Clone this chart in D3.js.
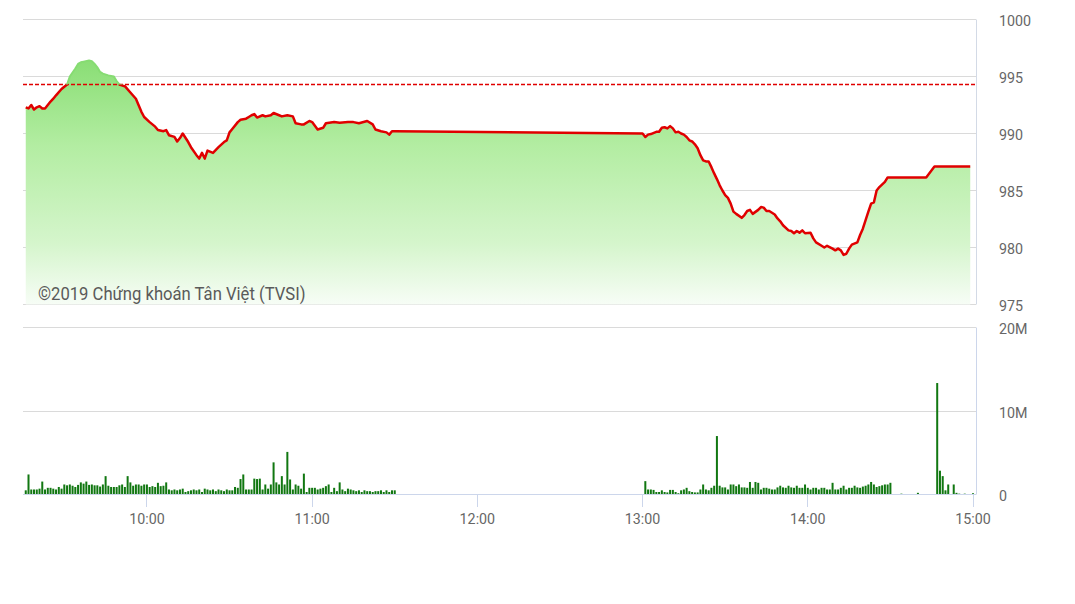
<!DOCTYPE html>
<html><head><meta charset="utf-8">
<script src="https://cdn.jsdelivr.net/npm/d3@7"></script>
<style>html,body{margin:0;padding:0;background:#fff;}svg{display:block;font-family:Roboto,"Noto Sans",sans-serif;}</style>
</head><body><svg id="c" width="1075" height="604"></svg>
<script>
// ---- DATA ----
const priceTimes = ["9:16","9:17","9:18","9:19","9:20","9:21","9:22","9:23","9:25","9:26","9:27","9:29","9:31","9:32","9:34","9:35","9:36","9:37","9:39","9:40","9:41","9:42","9:43","9:44","9:46","9:48","9:49","9:50","9:52","9:54","9:56","9:58","9:59","10:01","10:03","10:04","10:06","10:07","10:08","10:10","10:11","10:12","10:13","10:15","10:16","10:18","10:19","10:20","10:21","10:22","10:24","10:26","10:28","10:29","10:30","10:31","10:33","10:34","10:36","10:37","10:38","10:39","10:40","10:42","10:43","10:45","10:46","10:48","10:49","10:51","10:53","10:54","10:56","10:57","10:59","11:00","11:02","11:04","11:05","11:08","11:10","11:13","11:15","11:17","11:20","11:22","11:23","11:25","11:27","11:28","11:29","11:30",
"13:00","13:01","13:02","13:03","13:05","13:06","13:07","13:08","13:09","13:10","13:11","13:12","13:13","13:14","13:15","13:16","13:17","13:18","13:19","13:20","13:21","13:22","13:23","13:24","13:25","13:26","13:27","13:28","13:29","13:30","13:31","13:32","13:33","13:34","13:36","13:37","13:38","13:39","13:40","13:42","13:43","13:44","13:45","13:46","13:48","13:49","13:50","13:51","13:53","13:54","13:55","13:56","13:57","13:58","13:59","14:01","14:02","14:03","14:05","14:06","14:07","14:09","14:10","14:11","14:12","14:13","14:14","14:15","14:16","14:18","14:19","14:20","14:21","14:22","14:23","14:24","14:25","14:26","14:28","14:29","14:43","14:46","14:59"];
const priceValues = [992.3,992.2,992.5,992.1,992.3,992.4,992.2,992.2,992.8,993.05,993.35,993.9,994.3,995.0,995.7,996.1,996.25,996.3,996.4,996.35,996.1,995.8,995.4,995.25,995.1,995.0,994.6,994.3,994.15,993.6,993.05,991.9,991.45,991.0,990.6,990.3,990.2,990.3,989.85,989.7,989.3,989.6,990.0,989.25,988.8,988.1,987.8,988.3,987.8,988.5,988.3,988.8,989.25,989.4,990.1,990.4,991.0,991.2,991.3,991.45,991.6,991.7,991.4,991.6,991.5,991.6,991.8,991.6,991.5,991.6,991.5,990.9,990.8,990.8,991.1,991.0,990.35,990.5,990.9,991.0,990.95,991.0,991.0,990.9,991.1,990.8,990.35,990.2,990.1,989.9,990.2,990.2,
990.0,989.7,989.9,989.95,990.15,990.15,990.5,990.55,990.45,990.65,990.45,990.1,990.15,990.0,989.9,989.7,989.4,989.3,989.05,988.7,988.1,987.65,987.55,987.55,987.05,986.5,986.0,985.45,985.0,984.6,984.35,983.85,983.15,982.95,982.6,982.85,983.2,983.3,982.95,983.3,983.55,983.5,983.2,983.2,982.9,982.55,982.3,981.95,981.5,981.45,981.25,981.45,981.3,981.5,981.25,981.3,980.8,980.45,980.15,980.0,980.15,979.9,979.75,979.9,979.75,979.35,979.45,979.9,980.25,980.45,981.1,981.65,982.4,983.15,983.85,983.95,985.0,985.3,985.75,986.15,986.15,987.1,987.1];
const refValue = 994.3;

const volMorningStart = "9:16";
const volMorning = [0.5,2.4,0.6,0.6,0.6,0.7,1.55,0.6,0.8,0.8,0.7,0.6,0.9,0.7,
1.2,1.1,1.2,1.05,0.9,1.15,1.45,1.3,1.55,1.15,1.2,1.1,1.1,0.95,1.2,2.2,1.05,0.9,0.9,0.9,1.1,1.2,0.9,2.2,1.45,1.05,1.2,1.2,1.05,1.2,1.2,0.9,1.0,
0.9,1.4,1.0,1.05,1.45,0.6,0.5,0.6,0.5,0.6,0.7,0.3,0.4,0.5,0.6,0.5,0.6,0.3,0.7,0.6,0.5,0.6,0.4,0.6,0.5,0.4,
0.6,0.5,0.5,0.9,0.8,1.85,2.4,0.6,0.6,0.6,1.9,1.85,1.9,0.6,1.2,0.7,1.2,3.85,1.45,1.2,2.2,1.2,5.1,1.8,0.6,1.2,1.05,0.7,2.5,0.3,0.8,0.8,0.8,0.6,0.7,0.8,1.0,1.2,0.3,0.8,0.4,1.45,0.6,0.4,0.7,0.6,0.5,0.4,0.5,0.3,0.5,0.4,0.4,0.3,0.4,0.4,0.5,0.3,0.5,0.3,0.5,0.5];
const volAfternoonStart = "13:01";
const volAfternoon = [1.6,0.6,0.6,0.55,0.3,0.3,0.5,0.3,0.25,
0.55,0.55,0.3,0.15,0.5,0.6,0.8,0.4,0.3,0.25,0.25,0.6,1.2,0.6,0.5,0.8,1.05,7.0,1.05,0.85,0.85,0.6,1.2,1.2,1.0,1.2,0.85,0.85,0.8,1.5,0.8,1.5,1.4,0.6,
0.8,0.8,0.7,0.6,0.6,0.85,1.05,0.85,0.8,1.05,0.85,0.8,1.05,0.8,0.8,1.2,0.8,0.6,0.8,0.8,
0.6,0.8,0.8,0.6,0.6,1.4,0.6,0.6,0.8,1.05,0.6,
0.8,0.8,1.05,0.85,0.8,0.95,1.05,1.2,1.5,1.2,0.9,1.0,1.1,1.2,1.2,1.4];
const volLateTimes = ["14:34","14:40","14:47","14:48","14:49","14:50","14:51","14:53","14:54","14:55","14:57","15:00"];
const volLateValues = [0.1,0.2,13.35,2.85,2.2,0.5,1.2,1.2,0.2,0.1,0.1,0.15];

const priceTicks = [975,980,985,990,995,1000];
const volTicks = [0,10,20];
const volTickLabels = ["0","10M","20M"];
const timeTicks = ["10:00","11:00","12:00","13:00","14:00","15:00"];
const copyright = "©2019 Chứng khoán Tân Việt (TVSI)";

// ---- DRAW ----
const toMin = s => { const [h,m] = s.split(":").map(Number); return h*60+m; };
const svg = d3.select("#c");
const L = 23, R = 976;
const x = d3.scaleLinear().domain([toMin("9:15"), toMin("15:00")]).range([23, 973]);
const yP = d3.scaleLinear().domain([975,1000]).range([304.5,19.5]);
const yV = d3.scaleLinear().domain([0,20]).range([494.5,327.5]);
const crisp = v => Math.round(v - 0.5) + 0.5;

const defs = svg.append("defs");
const grad = defs.append("linearGradient").attr("id","g").attr("gradientUnits","userSpaceOnUse")
  .attr("x1",0).attr("x2",0).attr("y1",yP(d3.max(priceValues))).attr("y2",yP(975));
[[0,"#8ade75"],[0.35,"#b3eda2"],[0.75,"#d5f5cc"],[1,"#f7fdf6"]].forEach(([o,c])=>grad.append("stop").attr("offset",o).attr("stop-color",c));
defs.append("clipPath").attr("id","below").append("rect").attr("x",0).attr("width",1075).attr("y",yP(refValue)).attr("height",400);
defs.append("clipPath").attr("id","above").append("rect").attr("x",0).attr("width",1075).attr("y",0).attr("height",yP(refValue));

// grid top panel
svg.append("g").selectAll("line").data(priceTicks).join("line")
  .attr("x1",L).attr("x2",R).attr("y1",d=>crisp(yP(d))).attr("y2",d=>crisp(yP(d)))
  .attr("stroke","#dadada").attr("stroke-width",1);
// grid volume panel
svg.append("g").selectAll("line").data(volTicks.filter(d=>d>0)).join("line")
  .attr("x1",L).attr("x2",R).attr("y1",d=>crisp(yV(d))).attr("y2",d=>crisp(yV(d)))
  .attr("stroke","#dadada").attr("stroke-width",1);

const pts = priceTimes.map((t,i)=>({t:toMin(t), v:priceValues[i]}));
const area = d3.area().x(d=>x(d.t)).y0(yP(975)).y1(d=>yP(d.v));
const line = d3.line().x(d=>x(d.t)).y(d=>yP(d.v));
svg.append("path").datum(pts).attr("d",area).attr("fill","url(#g)");

// copyright
const tx = (g, px, py, sx, txt, size, color, anchor) => {
  g.append("g").attr("transform",`translate(${px},${py}) scale(${sx},1)`)
   .append("text").attr("text-anchor",anchor||"start").attr("font-size",size).attr("fill",color).text(txt);
};
tx(svg, 38, 300, 0.9, copyright, 18.5, "#5a5a5a");

// borders
svg.append("line").attr("x1",R+0.5).attr("x2",R+0.5).attr("y1",crisp(yP(1000))).attr("y2",crisp(yP(975))).attr("stroke","#d3dae6");
svg.append("line").attr("x1",R+0.5).attr("x2",R+0.5).attr("y1",crisp(yV(20))).attr("y2",crisp(yV(0))).attr("stroke","#ccd6eb");

// ref line
svg.append("line").attr("x1",L).attr("x2",R).attr("y1",yP(refValue)).attr("y2",yP(refValue))
  .attr("stroke","#e00000").attr("stroke-width",1.4).attr("stroke-dasharray","4,2");

// price line
svg.append("path").datum(pts).attr("d",line).attr("fill","none").attr("stroke","#e00000")
  .attr("stroke-width",2.5).attr("stroke-linejoin","round").attr("clip-path","url(#below)");
svg.append("path").datum(pts).attr("d",line).attr("fill","none").attr("stroke","#86dc72")
  .attr("stroke-width",2).attr("stroke-linejoin","round").attr("clip-path","url(#above)");

// volume bars
const m0 = toMin(volMorningStart), a0 = toMin(volAfternoonStart);
const bars = volMorning.map((v,i)=>({t:m0+i, v}))
  .concat(volAfternoon.map((v,i)=>({t:a0+i, v})))
  .concat(volLateTimes.map((t,i)=>({t:toMin(t), v:volLateValues[i]})));
svg.append("g").selectAll("rect").data(bars).join("rect")
  .attr("x",d=>x(d.t)-1).attr("width",2)
  .attr("y",d=>yV(d.v)).attr("height",d=>yV(0)-yV(d.v))
  .attr("fill","#117711");

// x axis line + ticks
svg.append("line").attr("x1",L).attr("x2",R).attr("y1",crisp(yV(0))).attr("y2",crisp(yV(0))).attr("stroke","#ccd6eb");
svg.append("g").selectAll("line").data(timeTicks).join("line")
  .attr("x1",d=>crisp(x(toMin(d)))).attr("x2",d=>crisp(x(toMin(d))))
  .attr("y1",crisp(yV(0))).attr("y2",507).attr("stroke","#ccd6eb");
timeTicks.forEach(t=>tx(svg, x(toMin(t)), 524, 0.92, t, 15.5, "#666", "middle"));

// y labels
priceTicks.forEach(p=>tx(svg, 999, yP(p)+6.5, 0.92, String(p), 15.5, "#666"));
volTicks.forEach((v,i)=>tx(svg, 999, yV(v)+6.5, 0.92, volTickLabels[i], 15.5, "#666"));
</script></body></html>
